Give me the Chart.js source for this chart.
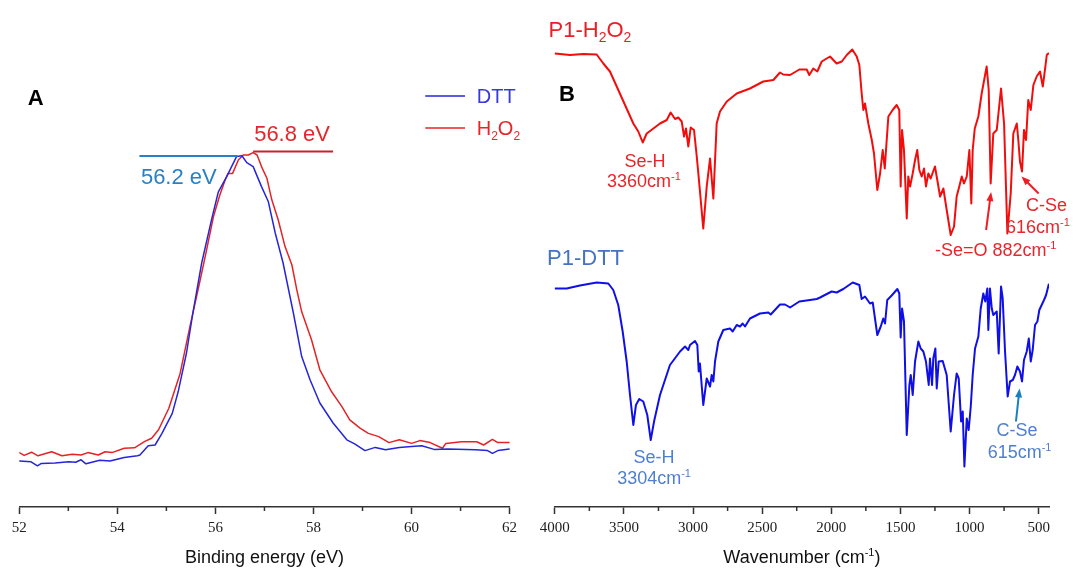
<!DOCTYPE html>
<html>
<head>
<meta charset="utf-8">
<script src="https://cdn.jsdelivr.net/npm/chart.js@4.4.1/dist/chart.umd.min.js"></script>
<style>
    html, body { margin: 0; padding: 0; background: #fff; }
    #wrap { position: relative; width: 1081px; height: 569px; }
    #wrap canvas { position: absolute; left: 0; top: 0; }
</style>
</head>
<body>
<div id="wrap">
    <canvas id="xpsGraph" width="1081" height="569"></canvas>
    <canvas id="irGraph" width="1081" height="569"></canvas>
</div>
<script>
// ---- panel A : Se 3d XPS (binding energy, eV / intensity, a.u.)
const xpsEnergyDTT = [52.00, 52.24, 52.37, 52.45, 52.73, 53.01, 53.15, 53.26, 53.36, 53.64,
    53.85, 54.14, 54.41, 54.46, 54.63, 54.77, 54.91, 55.12, 55.24, 55.41,
    55.54, 55.72, 55.92, 56.06, 56.23, 56.43, 56.54, 56.64, 56.77, 56.94,
    57.08, 57.22, 57.38, 57.59, 57.76, 57.93, 58.13, 58.40, 58.68, 58.84,
    59.05, 59.26, 59.47, 59.75, 60.00, 60.21, 60.46, 60.74, 61.30, 61.55,
    61.65, 61.76, 62.00];
const xpsDTT = [11.5, 11.3, 10.3, 10.9, 11.0, 11.3, 11.2, 11.8, 10.8, 11.7,
    11.5, 12.4, 12.8, 13.0, 15.3, 15.5, 18.4, 23.4, 28.8, 38.5,
    48.5, 61.0, 71.8, 78.8, 82.6, 87.6, 87.8, 86.1, 85.1, 80.1,
    76.3, 68.5, 61.0, 48.5, 37.6, 31.8, 26.0, 21.0, 16.8, 15.8,
    14.1, 14.9, 14.3, 14.9, 15.1, 15.3, 14.4, 14.5, 14.3, 14.1,
    13.4, 14.1, 14.5];
const xpsEnergyH2O2 = [52.00, 52.10, 52.25, 52.38, 52.66, 52.87, 53.08, 53.26, 53.40, 53.61,
    53.75, 53.89, 54.14, 54.35, 54.56, 54.70, 54.84, 55.05, 55.28, 55.48,
    55.69, 55.82, 55.96, 56.09, 56.20, 56.26, 56.35, 56.47, 56.57, 56.67,
    56.77, 56.85, 56.94, 57.05, 57.15, 57.28, 57.42, 57.56, 57.66, 57.76,
    57.96, 58.13, 58.37, 58.58, 58.74, 58.95, 59.12, 59.33, 59.54, 59.75,
    60.00, 60.17, 60.38, 60.63, 60.70, 61.02, 61.33, 61.47, 61.65, 61.76,
    62.00];
const xpsH2O2 = [13.6, 12.9, 13.7, 12.8, 13.8, 12.8, 13.2, 13.0, 13.6, 13.0,
    13.8, 13.6, 14.7, 14.8, 16.4, 17.2, 19.3, 24.7, 33.4, 45.1,
    56.8, 64.3, 72.6, 78.0, 81.8, 83.4, 83.4, 86.8, 88.0, 88.0,
    88.6, 88.0, 85.1, 82.2, 76.8, 71.8, 65.1, 60.5, 54.3, 48.8,
    41.8, 34.3, 28.8, 25.1, 21.8, 19.7, 18.4, 17.6, 16.1, 16.8,
    15.9, 16.6, 16.1, 14.7, 15.9, 16.3, 16.3, 15.5, 16.9, 16.1,
    16.1];
const xpsTicks = [52, 54, 56, 58, 60, 62];
const xpsMinor = [53, 55, 57, 59, 61];

// ---- panel B : FTIR (wavenumber, cm-1 / transmittance, offset a.u.)
const irWaveH2O2 = [3998, 3890, 3794, 3697, 3649, 3601, 3552, 3492, 3432, 3396,
    3364, 3335, 3287, 3239, 3190, 3162, 3130, 3107, 3082, 3065,
    3051, 3034, 3017, 2993, 2973, 2955, 2926, 2901, 2877, 2853,
    2829, 2805, 2756, 2684, 2588, 2492, 2419, 2371, 2347, 2298,
    2231, 2178, 2159, 2130, 2101, 2069, 2009, 1961, 1924, 1888,
    1848, 1816, 1797, 1780, 1768, 1756, 1732, 1707, 1691, 1667,
    1647, 1628, 1613, 1604, 1587, 1556, 1527, 1508, 1498, 1488,
    1474, 1454, 1443, 1430, 1411, 1394, 1378, 1363, 1346, 1329,
    1315, 1298, 1281, 1250, 1233, 1213, 1189, 1165, 1136, 1112,
    1093, 1074, 1056, 1040, 1020, 1001, 987, 977, 962, 936,
    912, 876, 861, 847, 828, 803, 772, 750, 726, 702,
    683, 658, 647, 635, 620, 606, 591, 575, 557, 538,
    514, 490, 470, 459, 441, 430];
const irH2O2 = [90.7, 90.4, 90.6, 90.5, 88.7, 87.1, 84.1, 80.4, 76.7, 75.1,
    72.9, 74.7, 75.7, 76.7, 77.4, 78.9, 77.6, 77.9, 77.1, 74.1,
    75.7, 72.1, 75.9, 75.4, 70.1, 64.7, 55.7, 64.1, 69.7, 61.7,
    76.7, 79.1, 81.1, 82.7, 83.7, 85.1, 85.4, 86.9, 86.5, 86.4,
    87.5, 87.5, 86.4, 87.7, 87.1, 89.1, 90.1, 88.7, 89.1, 90.4,
    91.5, 90.1, 88.4, 82.7, 79.4, 80.7, 76.7, 73.4, 70.7, 63.4,
    66.7, 71.4, 67.7, 71.4, 78.1, 79.4, 80.4, 79.4, 64.1, 75.4,
    71.4, 57.7, 66.1, 64.1, 66.7, 69.4, 71.4, 67.4, 66.1, 67.7,
    64.1, 66.7, 65.7, 68.1, 65.4, 62.1, 63.7, 59.4, 54.4, 56.1,
    62.1, 64.1, 66.1, 64.7, 66.1, 71.4, 60.7, 71.4, 75.7, 78.1,
    82.7, 88.1, 83.4, 64.7, 74.7, 75.4, 83.7, 76.7, 54.7, 62.7,
    74.7, 76.7, 73.4, 69.1, 67.1, 75.4, 73.4, 81.4, 79.4, 84.4,
    86.1, 87.1, 84.1, 86.4, 90.4, 90.7];
const irWaveDTT = [3998, 3914, 3818, 3697, 3613, 3577, 3541, 3509, 3480, 3456,
    3432, 3413, 3389, 3360, 3331, 3306, 3282, 3239, 3167, 3094,
    3058, 3034, 3022, 2986, 2969, 2959, 2950, 2926, 2901, 2877,
    2865, 2853, 2841, 2817, 2781, 2733, 2713, 2684, 2660, 2641,
    2624, 2588, 2516, 2455, 2438, 2371, 2335, 2298, 2231, 2154,
    2105, 2081, 1997, 1961, 1913, 1845, 1797, 1780, 1756, 1720,
    1700, 1667, 1642, 1624, 1611, 1595, 1563, 1522, 1508, 1498,
    1488, 1474, 1454, 1435, 1425, 1411, 1394, 1370, 1353, 1334,
    1315, 1295, 1286, 1271, 1262, 1247, 1237, 1223, 1194, 1165,
    1136, 1112, 1093, 1078, 1061, 1049, 1037, 1020, 1006, 991,
    977, 960, 936, 919, 900, 886, 871, 864, 852, 839,
    828, 803, 789, 772, 760, 743, 724, 707, 687, 671,
    654, 635, 620, 606, 586, 571, 557, 543, 526, 509,
    495, 478, 461, 446, 427];
const irDTT = [43.7, 43.7, 44.3, 44.9, 44.7, 43.4, 40.4, 35.1, 29.1, 22.4,
    16.4, 20.4, 21.6, 21.1, 18.4, 13.4, 17.1, 22.4, 28.4, 31.1,
    32.1, 31.4, 32.4, 33.2, 32.4, 27.1, 28.7, 20.4, 25.7, 24.1,
    26.4, 25.1, 29.1, 33.1, 35.4, 35.7, 35.1, 36.4, 36.1, 36.7,
    36.1, 37.7, 38.7, 38.9, 38.5, 40.5, 40.5, 39.9, 41.1, 41.4,
    41.6, 41.9, 43.1, 42.9, 43.6, 44.9, 44.4, 41.6, 42.1, 40.7,
    40.9, 34.4, 36.1, 37.7, 36.7, 41.4, 42.3, 43.6, 42.7, 33.9,
    39.7, 37.1, 14.4, 24.4, 26.4, 22.4, 29.1, 33.1, 31.7, 31.1,
    29.1, 24.4, 29.7, 24.4, 29.7, 31.7, 23.7, 29.1, 29.2, 26.4,
    15.1, 22.4, 26.7, 25.7, 17.1, 19.1, 8.1, 17.7, 15.4, 20.1,
    26.4, 31.7, 34.1, 39.7, 42.7, 41.1, 43.7, 35.4, 43.7, 39.7,
    38.4, 39.1, 30.7, 44.1, 41.7, 31.1, 22.1, 25.1, 25.4, 26.4,
    28.1, 27.1, 25.1, 29.4, 31.1, 33.7, 29.1, 31.4, 36.4, 37.1,
    39.4, 40.4, 41.4, 42.4, 44.5];
const irTicks = [4000, 3500, 3000, 2500, 2000, 1500, 1000, 500];
const irMinor = [3750, 3250, 2750, 2250, 1750, 1250, 750];

const SANS = "'Liberation Sans', Arial, sans-serif";
const toXY = (xs, ys) => xs.map((x, i) => ({ x: x, y: ys[i] }));

// text with _{sub} and ^{sup} parts, y is the middle of the capitals
function richParts(str) {
    const parts = [];
    const re = /([_^])\{([^}]*)\}/g;
    let last = 0, m;
    while ((m = re.exec(str))) {
        if (m.index > last) parts.push({ t: str.slice(last, m.index), k: '' });
        parts.push({ t: m[2], k: m[1] });
        last = re.lastIndex;
    }
    if (last < str.length) parts.push({ t: str.slice(last), k: '' });
    return parts;
}

function drawRich(ctx, str, x, y, size, color, align, weight) {
    const parts = richParts(str);
    const fontFor = k => (weight || 'normal') + ' ' + (k ? Math.round(size * 0.62) : size) + 'px ' + SANS;
    let w = 0;
    parts.forEach(p => { ctx.font = fontFor(p.k); p.w = ctx.measureText(p.t).width; w += p.w; });
    let cx = align === 'center' ? x - w / 2 : x;
    const base = y + size * 0.36;
    ctx.save();
    ctx.fillStyle = color;
    ctx.textAlign = 'left';
    ctx.textBaseline = 'alphabetic';
    parts.forEach(p => {
        ctx.font = fontFor(p.k);
        const dy = p.k === '_' ? size * 0.22 : (p.k === '^' ? -size * 0.4 : 0);
        ctx.fillText(p.t, cx, base + dy);
        cx += p.w;
    });
    ctx.restore();
}

function drawArrow(ctx, x1, y1, x2, y2, color) {
    const a = Math.atan2(y2 - y1, x2 - x1);
    const len = 9, half = 3.5;
    ctx.save();
    ctx.strokeStyle = color;
    ctx.fillStyle = color;
    ctx.lineWidth = 2;
    ctx.beginPath();
    ctx.moveTo(x1, y1);
    ctx.lineTo(x2 - Math.cos(a) * len * 0.8, y2 - Math.sin(a) * len * 0.8);
    ctx.stroke();
    ctx.beginPath();
    ctx.moveTo(x2, y2);
    ctx.lineTo(x2 - Math.cos(a) * len - Math.sin(a) * half, y2 - Math.sin(a) * len + Math.cos(a) * half);
    ctx.lineTo(x2 - Math.cos(a) * len + Math.sin(a) * half, y2 - Math.sin(a) * len - Math.cos(a) * half);
    ctx.closePath();
    ctx.fill();
    ctx.restore();
}

// minor ticks, axis title and the notes, all placed through the chart scales
const notesPlugin = {
    id: 'notes',
    afterDraw(chart, args, opts) {
        const ctx = chart.ctx;
        const sx = chart.scales.x, sy = chart.scales.y;
        const X = v => sx.getPixelForValue(v);
        const Y = v => sy.getPixelForValue(v);

        ctx.save();
        ctx.strokeStyle = '#333';
        ctx.lineWidth = 1.5;
        opts.minor.forEach(v => {
            ctx.beginPath();
            ctx.moveTo(X(v), sx.top);
            ctx.lineTo(X(v), sx.top + 4);
            ctx.stroke();
        });
        (opts.lines || []).forEach(l => {
            ctx.strokeStyle = l.color;
            ctx.lineWidth = l.width;
            ctx.beginPath();
            ctx.moveTo(X(l.x1), Y(l.y));
            ctx.lineTo(X(l.x2), Y(l.y));
            ctx.stroke();
        });
        ctx.restore();

        (opts.arrows || []).forEach(a => drawArrow(ctx, X(a.x1), Y(a.y1), X(a.x2), Y(a.y2), a.color));
        (opts.texts || []).forEach(t => drawRich(ctx, t.s, X(t.x), Y(t.y), t.size, t.color, t.align, t.weight));

        const ca = chart.chartArea;
        drawRich(ctx, opts.title, (ca.left + ca.right) / 2, sx.bottom - 12, 18, '#111', 'center');
    }
};

function axisX(ticks, extra) {
    return Object.assign({
        type: 'linear',
        afterBuildTicks: s => { s.ticks = ticks.map(v => ({ value: v })); },
        afterFit: s => { s.height = 62; },
        border: { display: true, color: '#333', width: 1.5 },
        grid: { display: true, drawOnChartArea: false, drawTicks: true, tickLength: 7, tickColor: '#333', tickWidth: 1.5 },
        ticks: {
            padding: 5, maxRotation: 0, autoSkip: false, color: '#222',
            font: { family: "'Liberation Serif', serif", size: 15 },
            callback: v => String(v)
        },
        title: { display: false }
    }, extra);
}

const lineStyle = { tension: 0, borderJoinStyle: 'round', borderCapStyle: 'round' };

const xpsCtx = document.getElementById('xpsGraph').getContext('2d');
const irCtx = document.getElementById('irGraph').getContext('2d');

new Chart(xpsCtx, {
    type: 'line',
    data: {
        datasets: [
            { label: 'DTT', data: toXY(xpsEnergyDTT, xpsDTT), borderColor: '#2626d8', borderWidth: 1.5 },
            { label: 'H2O2', data: toXY(xpsEnergyH2O2, xpsH2O2), borderColor: '#e42326', borderWidth: 1.5 }
        ]
    },
    options: {
        responsive: false,
        animation: false,
        events: [],
        elements: { point: { radius: 0 }, line: lineStyle },
        layout: { autoPadding: false, padding: { left: 19.3, right: 571.4, top: 107, bottom: 0 } },
        scales: {
            x: axisX(xpsTicks, { min: 52, max: 62 }),
            y: { display: false, min: 0, max: 100 }
        },
        plugins: {
            legend: { display: false },
            tooltip: { enabled: false },
            notes: {
                minor: xpsMinor,
                title: 'Binding energy (eV)',
                lines: [
                    { x1: 60.28, x2: 61.09, y: 102.75, color: '#2626d8', width: 1.5 },
                    { x1: 60.28, x2: 61.09, y: 94.75, color: '#e42326', width: 1.5 },
                    { x1: 54.45, x2: 56.45, y: 87.75, color: '#2a80c4', width: 2 },
                    { x1: 56.77, x2: 58.40, y: 88.9, color: '#c8232b', width: 2 }
                ],
                texts: [
                    { s: 'A', x: 52.17, y: 102.5, size: 22, color: '#000', weight: 'bold' },
                    { s: 'DTT', x: 61.33, y: 102.75, size: 20, color: '#3838e0' },
                    { s: 'H_{2}O_{2}', x: 61.33, y: 94.75, size: 20, color: '#e8262a' },
                    { s: '56.2 eV', x: 54.48, y: 82.8, size: 22, color: '#2a80c4' },
                    { s: '56.8 eV', x: 56.79, y: 93.4, size: 22, color: '#e8262a' }
                ]
            }
        }
    },
    plugins: [notesPlugin]
});

new Chart(irCtx, {
    type: 'line',
    data: {
        datasets: [
            { label: 'P1-H2O2', data: toXY(irWaveH2O2, irH2O2), borderColor: '#f20d0d', borderWidth: 2 },
            { label: 'P1-DTT', data: toXY(irWaveDTT, irDTT), borderColor: '#1010e6', borderWidth: 2 }
        ]
    },
    options: {
        responsive: false,
        animation: false,
        events: [],
        elements: { point: { radius: 0 }, line: lineStyle },
        layout: { autoPadding: false, padding: { left: 554.8, right: 32, top: 7, bottom: 0 } },
        scales: {
            x: axisX(irTicks, { min: 425, max: 4000, reverse: true }),
            y: { display: false, min: 0, max: 100 }
        },
        plugins: {
            legend: { display: false },
            tooltip: { enabled: false },
            notes: {
                minor: irMinor,
                title: 'Wavenumber (cm^{-1})',
                arrows: [
                    { x1: 880, y1: 55.4, x2: 844, y2: 63.0, color: '#ee1c24' },
                    { x1: 500, y1: 62.7, x2: 624, y2: 66.1, color: '#ee1c24' },
                    { x1: 664, y1: 17.1, x2: 638, y2: 23.7, color: '#1a7fbf' }
                ],
                texts: [
                    { s: 'B', x: 3970, y: 82.7, size: 22, color: '#000', weight: 'bold' },
                    { s: 'P1-H_{2}O_{2}', x: 4045, y: 95.6, size: 22, color: '#ee1c24' },
                    { s: 'P1-DTT', x: 4056, y: 50.0, size: 22, color: '#4472c4' },
                    { s: 'Se-H', x: 3347, y: 69.2, size: 18, color: '#e8262a', align: 'center' },
                    { s: '3360cm^{-1}', x: 3355, y: 65.2, size: 18, color: '#e8262a', align: 'center' },
                    { s: '-Se=O 882cm^{-1}', x: 1250, y: 51.5, size: 18, color: '#e8262a' },
                    { s: 'C-Se', x: 591, y: 60.5, size: 18, color: '#e8262a' },
                    { s: '616cm^{-1}', x: 736, y: 56.0, size: 18, color: '#e8262a' },
                    { s: 'Se-H', x: 3282, y: 10.0, size: 18, color: '#4f7fcf', align: 'center' },
                    { s: '3304cm^{-1}', x: 3282, y: 5.8, size: 18, color: '#4f7fcf', align: 'center' },
                    { s: 'C-Se', x: 656, y: 15.4, size: 18, color: '#4f7fcf', align: 'center' },
                    { s: '615cm^{-1}', x: 638, y: 11.0, size: 18, color: '#4f7fcf', align: 'center' }
                ]
            }
        }
    },
    plugins: [notesPlugin]
});
</script>
</body>
</html>
